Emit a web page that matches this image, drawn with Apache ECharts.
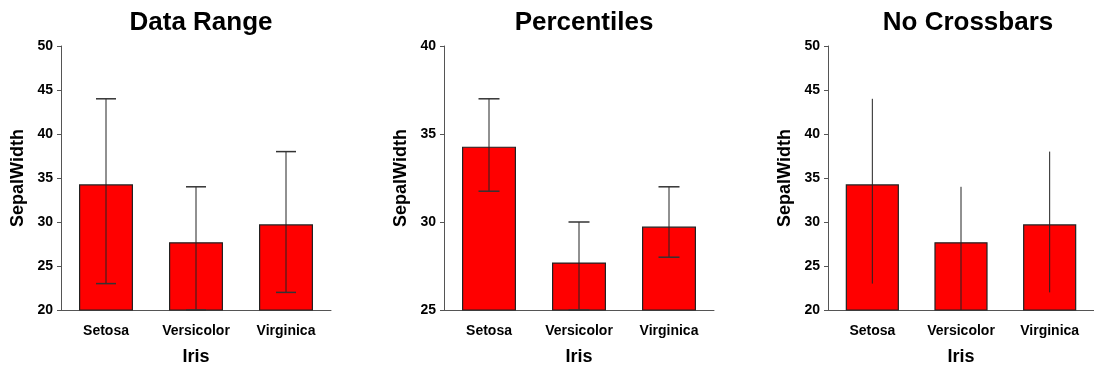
<!DOCTYPE html>
<html><head><meta charset="utf-8">
<script src="https://cdn.jsdelivr.net/npm/echarts@6/dist/echarts.min.js"></script>
<style>html,body{margin:0;padding:0;background:#fff}#c{width:1094px;height:371px}</style>
</head><body><div id="c"></div>
<script>
const categories = ['Setosa', 'Versicolor', 'Virginica'];
const means = [34.28, 27.70, 29.74];
const rangeLow = [23, 20, 22];
const rangeHigh = [44, 34, 38];
const pctLow = [31.75, 25, 28];
const pctHigh = [37, 30, 32];
const titles = ['Data Range', 'Percentiles', 'No Crossbars'];
const yMins = [20, 25, 20];
const yMaxs = [50, 40, 50];
const yIntervals = [5, 5, 5];

const FONT = '"Liberation Sans", Arial, sans-serif';
const lefts = [61, 444, 828];
const plotW = 270;

const chart = echarts.init(document.getElementById('c'));
const grids = [], xAxes = [], yAxes = [], series = [], titleArr = [];

function errRender(capW) {
  return function (params, api) {
    const x = api.value(0);
    const lo = api.coord([x, api.value(1)]);
    const hi = api.coord([x, api.value(2)]);
    const style = { stroke: '#222', lineWidth: 1 };
    const capStyle = { stroke: '#333', lineWidth: 1.5 };
    const children = [{ type: 'line', shape: { x1: lo[0], y1: lo[1], x2: hi[0], y2: hi[1] }, style }];
    if (capW > 0) {
      children.push({ type: 'line', shape: { x1: hi[0] - capW / 2, y1: hi[1], x2: hi[0] + capW / 2, y2: hi[1] }, style: capStyle });
      children.push({ type: 'line', shape: { x1: lo[0] - capW / 2, y1: lo[1], x2: lo[0] + capW / 2, y2: lo[1] }, style: capStyle });
    }
    return { type: 'group', children };
  };
}

const errLows = [rangeLow, pctLow, rangeLow];
const errHighs = [rangeHigh, pctHigh, rangeHigh];
const caps = [20, 21, 0];

for (let i = 0; i < 3; i++) {
  grids.push({ left: lefts[i], top: 46, width: plotW, height: 270 });
  titleArr.push({
    text: titles[i], left: lefts[i] + plotW / 2, top: 5, textAlign: 'center',
    textStyle: { fontFamily: FONT, fontWeight: 'bold', fontSize: 26, color: '#000' }
  });
  xAxes.push({
    type: 'category', gridIndex: i, data: categories,
    name: 'Iris', nameLocation: 'middle', nameGap: 38,
    nameTextStyle: { fontFamily: FONT, fontWeight: 'bold', fontSize: 18, color: '#000' },
    axisLine: { lineStyle: { color: '#555', width: 1 } },
    axisTick: { show: false },
    axisLabel: { fontFamily: FONT, fontWeight: 'bold', fontSize: 14, color: '#000', margin: 14 }
  });
  yAxes.push({
    type: 'value', gridIndex: i, min: yMins[i], max: yMaxs[i], interval: yIntervals[i],
    name: 'SepalWidth', nameLocation: 'middle', nameGap: 34,
    nameTextStyle: { fontFamily: FONT, fontWeight: 'bold', fontSize: 18, color: '#000' },
    axisLine: { show: true, lineStyle: { color: '#555', width: 1 } },
    axisTick: { show: true, length: 4, lineStyle: { color: '#555' } },
    splitLine: { show: false },
    axisLabel: { fontFamily: FONT, fontWeight: 'bold', fontSize: 14, color: '#000', margin: 8 }
  });
  series.push({
    type: 'bar', xAxisIndex: i, yAxisIndex: i, data: means, barWidth: '60%',
    itemStyle: { color: '#ff0000', borderColor: '#222', borderWidth: 1.2 },
    silent: true, animation: false
  });
  series.push({
    type: 'custom', xAxisIndex: i, yAxisIndex: i,
    data: categories.map((c, k) => [k, errLows[i][k], errHighs[i][k]]),
    encode: { x: 0, y: [1, 2] },
    renderItem: errRender(caps[i]), z: 5, silent: true, animation: false
  });
}

chart.setOption({
  animation: false,
  title: titleArr,
  grid: grids, xAxis: xAxes, yAxis: yAxes, series
});
</script></body></html>
